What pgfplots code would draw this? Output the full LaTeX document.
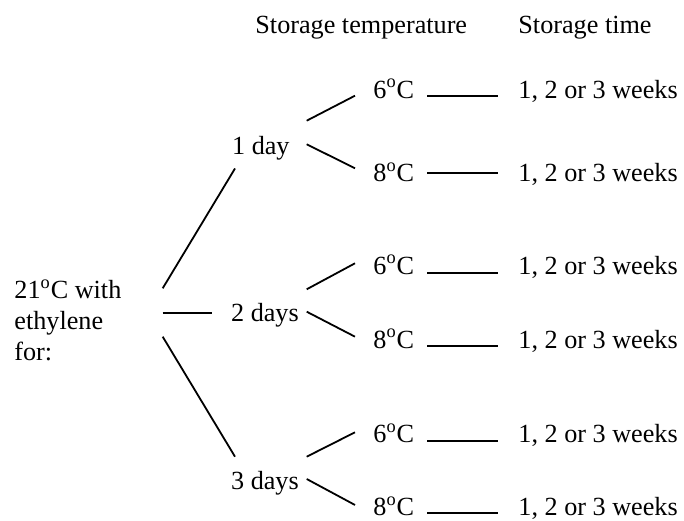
\documentclass[border=0pt]{standalone}
\usepackage{pgfplots}
\pgfplotsset{compat=1.18}
\usepackage{fontspec}
\setmainfont{Liberation Serif}
\newcommand{\dg}{\raisebox{0.15ex}{\textsuperscript{o}}}
\begin{document}
\begin{tikzpicture}[font=\fontsize{13.1}{15}\selectfont]
\begin{axis}[
  scale only axis, width=342pt, height=258.5pt,
  xmin=0, xmax=684, ymin=0, ymax=517,
  hide axis, clip=false,
  branch/.style={black, solid, line width=0.9pt, mark=none},
]
% trunk branches
\addplot[branch] coordinates {(162.7,228.7) (235,348.5)};
\addplot[branch] coordinates {(162.7,204.3) (211.7,204.3)};
\addplot[branch] coordinates {(162.7,180.3) (235,60.3)};
% group 1 day
\addplot[branch] coordinates {(306.7,396.3) (355,421.3)};
\addplot[branch] coordinates {(306.7,372.7) (355,348.7)};
\addplot[branch] coordinates {(427,421) (498,421)};
\addplot[branch] coordinates {(427,344.3) (498,344.3)};
% group 2 days
\addplot[branch] coordinates {(306.7,227.7) (355,253.7)};
\addplot[branch] coordinates {(306.7,205.3) (355,180.3)};
\addplot[branch] coordinates {(427,244.3) (498,244.3)};
\addplot[branch] coordinates {(427,171) (498,171)};
% group 3 days
\addplot[branch] coordinates {(306.7,60.3) (355,84.7)};
\addplot[branch] coordinates {(306.7,38) (355,12)};
\addplot[branch] coordinates {(427,76) (498,76)};
\addplot[branch] coordinates {(427,3.7) (498,3.7)};
% text
\node[anchor=base west, inner sep=0pt] at (axis cs:255,483) {Storage temperature};
\node[anchor=base west, inner sep=0pt] at (axis cs:518,483) {Storage time};
\node[anchor=base west, inner sep=0pt] at (axis cs:14,218) {21\dg C with};
\node[anchor=base west, inner sep=0pt] at (axis cs:14,187.5) {ethylene};
\node[anchor=base west, inner sep=0pt] at (axis cs:14,156.3) {for:};
\node[anchor=base west, inner sep=0pt] at (axis cs:231.7,362) {1 day};
\node[anchor=base west, inner sep=0pt] at (axis cs:230.7,195.3) {2 days};
\node[anchor=base west, inner sep=0pt] at (axis cs:230.7,27) {3 days};
\node[anchor=base west, inner sep=0pt] at (axis cs:373,418.7) {6\dg C};
\node[anchor=base west, inner sep=0pt] at (axis cs:373,335.3) {8\dg C};
\node[anchor=base west, inner sep=0pt] at (axis cs:373,242.7) {6\dg C};
\node[anchor=base west, inner sep=0pt] at (axis cs:373,168.7) {8\dg C};
\node[anchor=base west, inner sep=0pt] at (axis cs:373,74) {6\dg C};
\node[anchor=base west, inner sep=0pt] at (axis cs:373,1) {8\dg C};
\node[anchor=base west, inner sep=0pt] at (axis cs:518,418.7) {1, 2 or 3 weeks};
\node[anchor=base west, inner sep=0pt] at (axis cs:518,335.3) {1, 2 or 3 weeks};
\node[anchor=base west, inner sep=0pt] at (axis cs:518,242.7) {1, 2 or 3 weeks};
\node[anchor=base west, inner sep=0pt] at (axis cs:518,168.7) {1, 2 or 3 weeks};
\node[anchor=base west, inner sep=0pt] at (axis cs:518,74) {1, 2 or 3 weeks};
\node[anchor=base west, inner sep=0pt] at (axis cs:518,1) {1, 2 or 3 weeks};
\path[use as bounding box] (rel axis cs:0,0) rectangle (rel axis cs:1,1);
\end{axis}
\end{tikzpicture}
\end{document}
